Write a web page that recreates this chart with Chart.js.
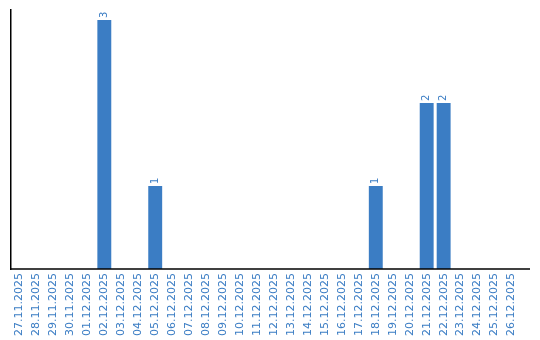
<!DOCTYPE html>
<html>
<head>
<meta charset="utf-8">
<script src="https://cdn.jsdelivr.net/npm/chart.js@4/dist/chart.umd.min.js"></script>
<style>
  html, body { margin: 0; padding: 0; background: #fff; }
  #wrap { width: 540px; height: 340px; }
</style>
</head>
<body>
<div id="wrap"><canvas id="chart"></canvas></div>
<script>
// Daily counts
const days = [
  "27.11.2025", "28.11.2025", "29.11.2025", "30.11.2025", "01.12.2025",
  "02.12.2025", "03.12.2025", "04.12.2025", "05.12.2025", "06.12.2025",
  "07.12.2025", "08.12.2025", "09.12.2025", "10.12.2025", "11.12.2025",
  "12.12.2025", "13.12.2025", "14.12.2025", "15.12.2025", "16.12.2025",
  "17.12.2025", "18.12.2025", "19.12.2025", "20.12.2025", "21.12.2025",
  "22.12.2025", "23.12.2025", "24.12.2025", "25.12.2025", "26.12.2025"
];
const counts = [
  0, 0, 0, 0, 0,
  3, 0, 0, 1, 0,
  0, 0, 0, 0, 0,
  0, 0, 0, 0, 0,
  0, 1, 0, 0, 2,
  2, 0, 0, 0, 0
];

const BLUE = "#3b7dc4";
const FONT = "'DejaVu Sans', sans-serif";

// value labels, rotated, on top of bars
const valueLabels = {
  id: "valueLabels",
  afterDatasetsDraw(chart) {
    const ctx = chart.ctx;
    const meta = chart.getDatasetMeta(0);
    ctx.save();
    ctx.fillStyle = BLUE;
    ctx.font = "10px " + FONT;
    ctx.textAlign = "left";
    ctx.textBaseline = "middle";
    meta.data.forEach((bar, i) => {
      if (!counts[i]) return;
      ctx.save();
      ctx.translate(bar.x, bar.y - 2);
      ctx.rotate(-Math.PI / 2);
      ctx.fillText(String(counts[i]), 0, 0);
      ctx.restore();
    });
    ctx.restore();
  },
};

// baseline, running a bit past the last category
const baseline = {
  id: "baseline",
  afterDraw(chart) {
    const { ctx, chartArea } = chart;
    ctx.save();
    ctx.strokeStyle = "#000";
    ctx.lineWidth = 1.5;
    ctx.beginPath();
    ctx.moveTo(chartArea.left - 0.75, chartArea.bottom);
    ctx.lineTo(chartArea.right + 10, chartArea.bottom);
    ctx.stroke();
    ctx.restore();
  },
};

new Chart(document.getElementById("chart"), {
  type: "bar",
  data: {
    labels: days,
    datasets: [
      {
        data: counts,
        backgroundColor: BLUE,
        borderWidth: 0,
        barPercentage: 0.82,
        categoryPercentage: 1,
      },
    ],
  },
  options: {
    animation: false,
    responsive: true,
    maintainAspectRatio: false,
    layout: { padding: { left: 11, top: 10, right: 20, bottom: 0 } },
    plugins: {
      legend: { display: false },
      tooltip: { enabled: false },
    },
    scales: {
      x: {
        grid: { display: false, drawTicks: false },
        border: { display: false },
        ticks: {
          color: BLUE,
          font: { size: 11, family: FONT },
          minRotation: 90,
          maxRotation: 90,
          autoSkip: false,
          padding: 4,
        },
      },
      y: {
        min: 0,
        max: 3.12,
        grid: { display: false, drawTicks: false },
        border: { color: "#000", width: 1.5 },
        ticks: { display: false },
        afterFit: (s) => { s.width = 0; },
      },
    },
  },
  plugins: [valueLabels, baseline],
});
</script>
</body>
</html>
